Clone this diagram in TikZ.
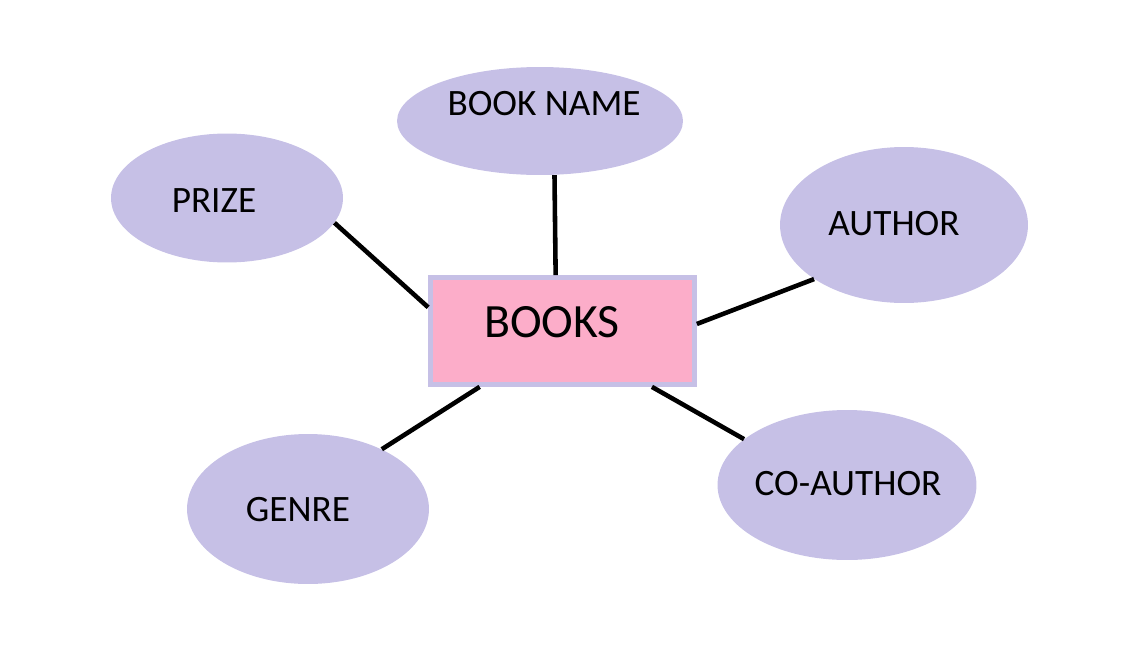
\documentclass[tikz,border=0pt]{standalone}
\usepackage{fontspec}
\setmainfont{Carlito}
\usepackage{xcolor}
\usetikzlibrary{shapes.geometric}
\definecolor{lilac}{RGB}{198,192,230}
\definecolor{rosepink}{RGB}{252,173,201}
\tikzstyle{attr} = [ellipse, fill=lilac, inner sep=0pt]
\tikzstyle{entity} = [rectangle, draw=lilac, fill=rosepink, line width=2.7pt,
minimum width=5.28cm, minimum height=2.14cm]
\tikzstyle{attrtext} = [font=\fontsize{21.2}{25}\selectfont, text=black]
\tikzstyle{link} = [draw=black, line width=2.6pt]

\begin{document}
\begin{tikzpicture}[x={(0.02cm,0)}, y={(0,-0.02cm)}]
        \useasboundingbox (0,0) rectangle (1124,666);
        \node [entity] (books) at (562.5,331) {};
        \node [font=\fontsize{27.2}{31}\selectfont] (books-t) at (552,322) {BOOKS};
        \node [attr, minimum width=5.72cm, minimum height=2.16cm] (bookname) at (540,121) {};
        \node [attrtext] (bookname-t) at (544,104) {BOOK NAME};
        \node [attr, minimum width=4.64cm, minimum height=2.58cm] (prize) at (227,198) {};
        \node [attrtext] (prize-t) at (214,201) {PRIZE};
        \node [attr, minimum width=4.96cm, minimum height=3.12cm] (author) at (904,225) {};
        \node [attrtext] (author-t) at (894,224) {AUTHOR};
        \node [attr, minimum width=4.84cm, minimum height=3.0cm] (genre) at (308,509) {};
        \node [attrtext] (genre-t) at (298,510) {GENRE};
        \node [attr, minimum width=5.18cm, minimum height=3.0cm] (coauthor) at (847,485) {};
        \node [attrtext] (coauthor-t) at (848,484) {CO-AUTHOR};
        \draw [link] (bookname.-75) -- (books.97.6);
        \draw [link] (prize.-13) -- (books.170);
        \draw [link] (author.-149) -- (books.3);
        \draw [link] (genre.39) -- (books.-146);
        \draw [link] (coauthor.156.7) -- (books.-32);
    \end{tikzpicture}
\end{document}
